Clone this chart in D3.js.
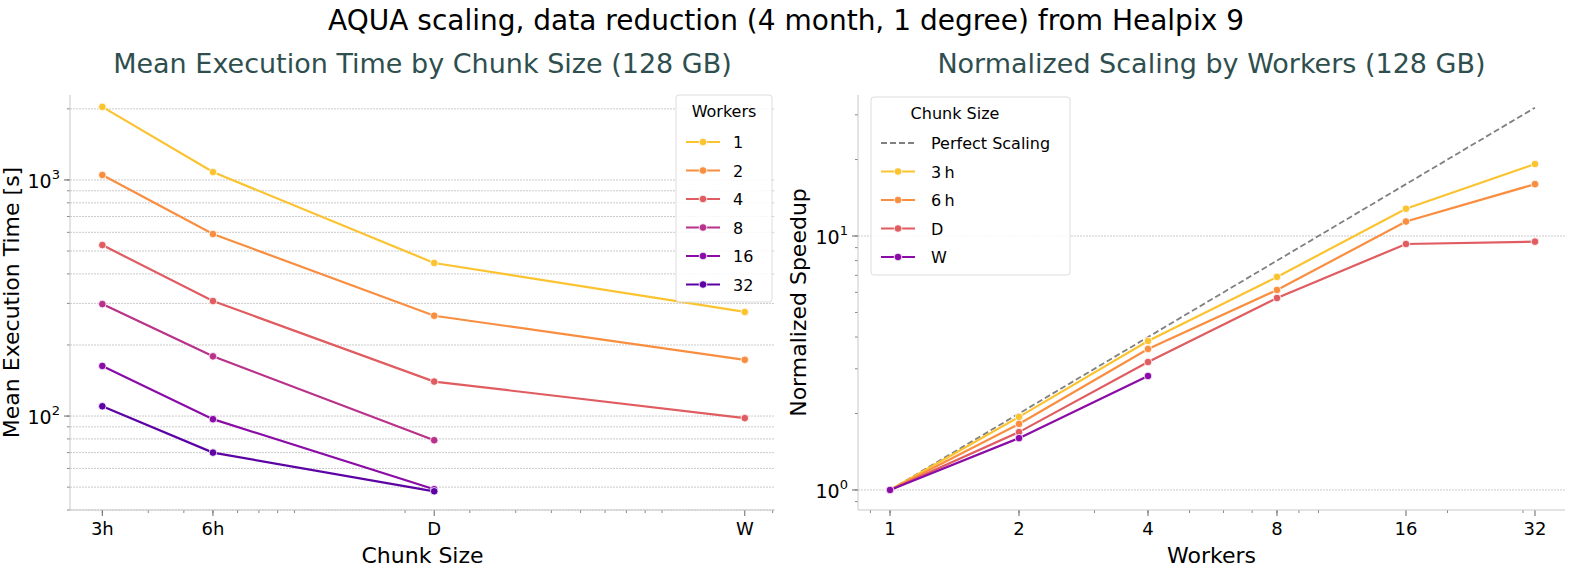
<!DOCTYPE html>
<html><head><meta charset="utf-8">
<script src="https://cdn.jsdelivr.net/npm/d3@7"></script>
<style>body{margin:0;background:#fff;font-family:"DejaVu Sans",sans-serif}</style>
</head><body><svg id="viz" width="1573" height="569"></svg>
<script>
const chunkLabels = ['3h', '6h', 'D', 'W'];
const chunkHours = [3, 6, 24, 168];
const workers = [1, 2, 4, 8, 16, 32];
// mean execution time [s] per worker count, indexed by chunk
const execTimes = {
  1: [2040, 1080, 445, 276],
  2: [1050, 590, 266, 173],
  4: [530, 307, 140, 98],
  8: [298, 179, 79, null],
  16: [163, 97, 49, null],
  32: [110, 70, 48, null]
};
// normalized speedup per chunk, indexed by workers
const speedups = {
  '3h': [1, 1.94, 3.86, 6.9, 12.8, 19.2],
  '6h': [1, 1.82, 3.59, 6.13, 11.4, 16.0],
  'D': [1, 1.69, 3.19, 5.70, 9.3, 9.5],
  'W': [1, 1.60, 2.81]
};
const workerColors = ['#fbc330', '#f98e40', '#e05c60', '#b8318a', '#8a0ba6', '#5c02a4'];
const chunkColors = ['#fbc330', '#f98e40', '#e05c60', '#8a0ba6'];

const svg = d3.select('#viz');
const titleColor = '#2f4f4f';
const gridColor = '#bdbdbd';
const axisColor = '#c8c8c8';

svg.append('text').attr('x', 786).attr('y', 30).attr('text-anchor', 'middle')
  .attr('font-size', 28).text('AQUA scaling, data reduction (4 month, 1 degree) from Healpix 9');

function logMinor(lo, hi) {
  const out = [];
  for (let e = Math.floor(Math.log10(lo)); e <= Math.ceil(Math.log10(hi)); e++)
    for (let m = 1; m < 10; m++) {
      const v = m * Math.pow(10, e);
      if (v >= lo && v <= hi) out.push(v);
    }
  return out;
}

function frame(L, R, T, B, title) {
  svg.append('text').attr('x', (L + R) / 2).attr('y', 73).attr('text-anchor', 'middle')
    .attr('font-size', 27).attr('fill', titleColor).text(title);
  svg.append('line').attr('x1', L).attr('x2', L).attr('y1', T).attr('y2', B).attr('stroke', axisColor);
  svg.append('line').attr('x1', L).attr('x2', R).attr('y1', B).attr('y2', B).attr('stroke', axisColor);
}

function powLabel(g, x, y, exp) {
  const t = g.append('text').attr('x', x).attr('y', y).attr('text-anchor', 'end').attr('font-size', 19);
  t.append('tspan').text('10');
  t.append('tspan').attr('dy', -9).attr('font-size', 13).text(exp);
}

// ---- Left panel ----
{
  const L = 70, R = 775, T = 95, B = 510;
  const x = d3.scaleLog().domain([2.45, 203]).range([L, R]);
  const y = d3.scaleLog().domain([40, 2290]).range([B, T]);
  const g = svg.append('g');
  logMinor(40, 2290).forEach(v => {
    g.append('line').attr('x1', L).attr('x2', R).attr('y1', y(v)).attr('y2', y(v))
      .attr('stroke', gridColor).attr('stroke-width', 0.8).attr('stroke-dasharray', '2,1');
  });
  frame(L, R, T, B, 'Mean Execution Time by Chunk Size (128 GB)');
  logMinor(2.45, 203).forEach(v => g.append('line').attr('x1', x(v)).attr('x2', x(v))
    .attr('y1', B).attr('y2', B + 3).attr('stroke', '#888'));
  chunkHours.forEach((h, i) => {
    g.append('line').attr('x1', x(h)).attr('x2', x(h)).attr('y1', B).attr('y2', B + 6).attr('stroke', '#666');
    g.append('text').attr('x', x(h)).attr('y', B + 25).attr('text-anchor', 'middle')
      .attr('font-size', 18).text(chunkLabels[i]);
  });
  logMinor(40, 2290).forEach(v => g.append('line').attr('x1', L - 3).attr('x2', L).attr('y1', y(v)).attr('y2', y(v)).attr('stroke', '#888'));
  [100, 1000].forEach(v => {
    g.append('line').attr('x1', L - 6).attr('x2', L).attr('y1', y(v)).attr('y2', y(v)).attr('stroke', '#666');
    powLabel(g, L - 10, y(v) + 8, Math.log10(v));
  });
  g.append('text').attr('x', (L + R) / 2).attr('y', 563).attr('text-anchor', 'middle').attr('font-size', 22).text('Chunk Size');
  g.append('text').attr('transform', `translate(19,${(T + B) / 2}) rotate(-90)`).attr('text-anchor', 'middle')
    .attr('font-size', 22).text('Mean Execution Time [s]');
  const line = d3.line().defined(d => d[1] != null).x(d => x(d[0])).y(d => y(d[1]));
  workers.forEach((w, i) => {
    const pts = chunkHours.map((h, j) => [h, execTimes[w][j]]);
    g.append('path').attr('d', line(pts)).attr('fill', 'none').attr('stroke', workerColors[i]).attr('stroke-width', 2.2);
    g.selectAll(null).data(pts.filter(p => p[1] != null)).join('circle')
      .attr('cx', p => x(p[0])).attr('cy', p => y(p[1])).attr('r', 3.8)
      .attr('fill', workerColors[i]).attr('stroke', '#fff').attr('stroke-width', 0.8);
  });
  const lg = svg.append('g').attr('transform', 'translate(676,95)');
  lg.append('rect').attr('width', 96).attr('height', 207).attr('rx', 3).attr('fill', '#fff')
    .attr('fill-opacity', 0.85).attr('stroke', '#ddd');
  lg.append('text').attr('x', 48).attr('y', 22).attr('text-anchor', 'middle').attr('font-size', 16).text('Workers');
  workers.forEach((w, i) => {
    const yy = 47 + i * 28.5;
    lg.append('line').attr('x1', 10).attr('x2', 44).attr('y1', yy).attr('y2', yy).attr('stroke', workerColors[i]).attr('stroke-width', 2.2);
    lg.append('circle').attr('cx', 27).attr('cy', yy).attr('r', 3.8).attr('fill', workerColors[i]).attr('stroke', '#fff').attr('stroke-width', 0.8);
    lg.append('text').attr('x', 57).attr('y', yy + 6).attr('font-size', 16).text(w);
  });
}

// ---- Right panel ----
{
  const L = 858, R = 1565, T = 95, B = 510;
  const x = d3.scaleLog().base(2).domain([0.842, 37.6]).range([L, R]);
  const y = d3.scaleLog().domain([0.834, 35.9]).range([B, T]);
  const g = svg.append('g');
  [1, 10].forEach(v => g.append('line').attr('x1', L).attr('x2', R).attr('y1', y(v)).attr('y2', y(v))
    .attr('stroke', gridColor).attr('stroke-width', 0.8).attr('stroke-dasharray', '2,1'));
  frame(L, R, T, B, 'Normalized Scaling by Workers (128 GB)');
  logMinor(0.842, 37.6).forEach(v => g.append('line').attr('x1', x(v)).attr('x2', x(v)).attr('y1', B).attr('y2', B + 3).attr('stroke', '#888'));
  workers.forEach(w => {
    g.append('line').attr('x1', x(w)).attr('x2', x(w)).attr('y1', B).attr('y2', B + 6).attr('stroke', '#666');
    g.append('text').attr('x', x(w)).attr('y', B + 25).attr('text-anchor', 'middle').attr('font-size', 18).text(w);
  });
  logMinor(0.834, 35.9).forEach(v => g.append('line').attr('x1', L - 3).attr('x2', L).attr('y1', y(v)).attr('y2', y(v)).attr('stroke', '#888'));
  [1, 10].forEach(v => {
    g.append('line').attr('x1', L - 6).attr('x2', L).attr('y1', y(v)).attr('y2', y(v)).attr('stroke', '#666');
    powLabel(g, L - 10, y(v) + 8, Math.log10(v));
  });
  g.append('text').attr('x', (L + R) / 2).attr('y', 563).attr('text-anchor', 'middle').attr('font-size', 22).text('Workers');
  g.append('text').attr('transform', `translate(806,${(T + B) / 2}) rotate(-90)`).attr('text-anchor', 'middle')
    .attr('font-size', 22).text('Normalized Speedup');
  const line = d3.line().x(d => x(d[0])).y(d => y(d[1]));
  g.append('path').attr('d', line(workers.map(w => [w, w]))).attr('fill', 'none')
    .attr('stroke', '#808080').attr('stroke-width', 1.8).attr('stroke-dasharray', '6,3');
  chunkLabels.forEach((c, i) => {
    const pts = speedups[c].map((s, j) => [workers[j], s]);
    g.append('path').attr('d', line(pts)).attr('fill', 'none').attr('stroke', chunkColors[i]).attr('stroke-width', 2.2);
    g.selectAll(null).data(pts).join('circle').attr('cx', p => x(p[0])).attr('cy', p => y(p[1])).attr('r', 3.8)
      .attr('fill', chunkColors[i]).attr('stroke', '#fff').attr('stroke-width', 0.8);
  });
  const lg = svg.append('g').attr('transform', 'translate(871,97)');
  lg.append('rect').attr('width', 199).attr('height', 178).attr('rx', 3).attr('fill', '#fff')
    .attr('fill-opacity', 0.85).attr('stroke', '#ddd');
  lg.append('text').attr('x', 84).attr('y', 22).attr('text-anchor', 'middle').attr('font-size', 16).text('Chunk Size');
  const items = [{ t: 'Perfect Scaling', c: '#808080', dash: true }]
    .concat(chunkLabels.map((c, i) => ({ t: c === '3h' ? '3\u2009h' : c === '6h' ? '6\u2009h' : c, c: chunkColors[i] })));
  items.forEach((it, i) => {
    const yy = 46 + i * 28.5;
    lg.append('line').attr('x1', 10).attr('x2', 44).attr('y1', yy).attr('y2', yy).attr('stroke', it.c)
      .attr('stroke-width', it.dash ? 1.8 : 2.2).attr('stroke-dasharray', it.dash ? '6,3' : null);
    if (!it.dash) lg.append('circle').attr('cx', 27).attr('cy', yy).attr('r', 3.8).attr('fill', it.c).attr('stroke', '#fff').attr('stroke-width', 0.8);
    lg.append('text').attr('x', 60).attr('y', yy + 6).attr('font-size', 16).text(it.t);
  });
}
</script></body></html>
